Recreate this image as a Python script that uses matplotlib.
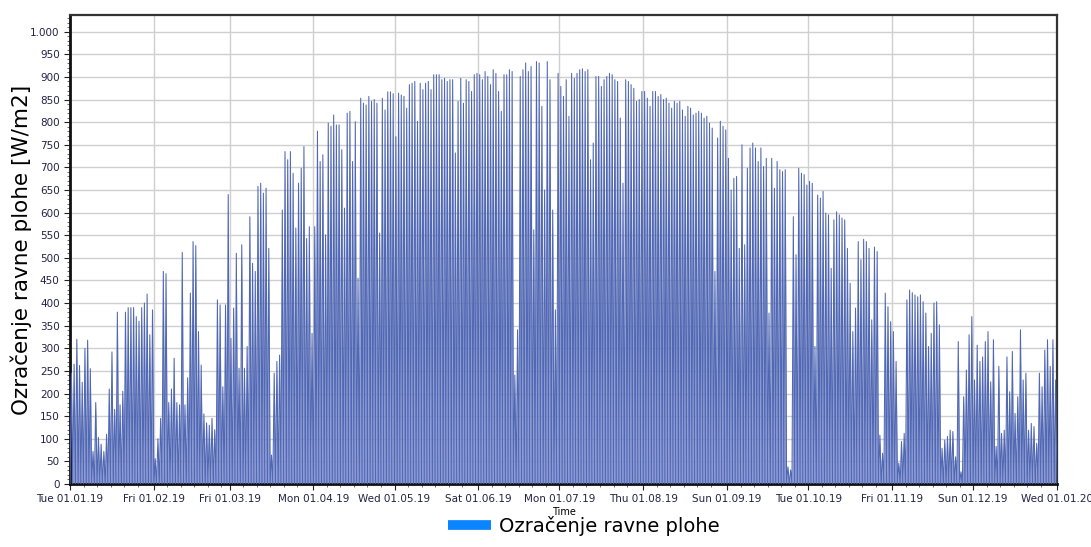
import numpy as np
import pandas as pd
import matplotlib
matplotlib.use("Agg")
import matplotlib.pyplot as plt
import matplotlib.dates as mdates
from matplotlib.ticker import FuncFormatter, MultipleLocator
from matplotlib.lines import Line2D

# Daily peak irradiance [W/m2] (2019)
jan = [245, 265, 320, 262, 225, 300, 318, 255, 72, 180, 103, 88, 72, 110, 210, 292,
       165, 380, 175, 205, 380, 390, 390, 390, 370, 360, 390, 400, 420, 330, 385]
feb = [56, 100, 145, 470, 465, 180, 210, 278, 180, 175, 512, 175, 235, 422, 536, 527,
       337, 263, 155, 135, 130, 145, 120, 407, 396, 215, 396, 640]
mar = [322, 389, 510, 256, 529, 256, 304, 591, 488, 470, 658, 665, 643, 654, 521, 64,
       245, 271, 285, 606, 735, 717, 735, 687, 566, 665, 698, 746, 543, 569, 333]
apr = [569, 780, 713, 728, 551, 798, 791, 816, 794, 794, 739, 610, 820, 824, 713, 801,
       455, 853, 842, 838, 857, 846, 850, 842, 555, 853, 827, 867, 867, 863]
may = [768, 864, 860, 857, 831, 883, 886, 890, 802, 886, 872, 886, 890, 872, 905, 905,
       905, 894, 897, 890, 894, 894, 732, 846, 897, 842, 894, 890, 868, 905, 908]
jun = [905, 894, 912, 901, 883, 916, 908, 868, 824, 905, 905, 916, 912, 241, 341, 901,
       916, 931, 912, 923, 562, 934, 931, 835, 650, 934, 894, 606, 385, 908]
jul = [879, 857, 894, 813, 908, 897, 908, 916, 918, 912, 916, 717, 754, 901, 901, 879,
       894, 901, 908, 905, 894, 890, 809, 665, 894, 890, 883, 875, 846, 850, 868]
aug = [868, 853, 835, 868, 868, 857, 861, 850, 853, 842, 831, 846, 842, 846, 827, 813,
       835, 831, 816, 820, 824, 820, 809, 813, 798, 787, 470, 765, 802, 791, 783]
sep = [720, 650, 676, 680, 521, 750, 529, 698, 743, 754, 743, 713, 743, 702, 720, 378,
       720, 654, 713, 695, 691, 695, 38, 31, 591, 507, 698, 687, 684, 661]
oct_ = [669, 665, 304, 639, 632, 647, 599, 595, 477, 584, 602, 595, 588, 584, 521, 444,
        337, 389, 536, 496, 541, 536, 521, 363, 524, 514, 108, 68, 422, 392, 359]
nov = [337, 271, 46, 94, 112, 407, 429, 423, 418, 414, 418, 403, 378, 304, 333, 400,
       403, 352, 79, 97, 105, 119, 116, 60, 315, 27, 193, 252, 330, 370]
dec = [230, 307, 271, 281, 315, 337, 226, 319, 83, 260, 112, 119, 281, 204, 293, 156,
       193, 341, 230, 245, 119, 134, 127, 90, 245, 215, 296, 319, 260, 319, 230]

series_label = "Ozračenje ravne plohe"
y_label = "Ozračenje ravne plohe [W/m2]"
x_label = "Time"

peaks = np.array(jan + feb + mar + apr + may + jun + jul + aug + sep + oct_ + nov + dec, dtype=float)
days = pd.date_range("2019-01-01", periods=len(peaks), freq="D")

# Series: zero at each midnight, daily peak at noon
times = []
vals = []
for d, p in zip(days, peaks):
    times.append(d)
    vals.append(0.0)
    times.append(d + pd.Timedelta(hours=12))
    vals.append(p)
times.append(days[-1] + pd.Timedelta(days=1))
vals.append(0.0)
times = pd.DatetimeIndex(times)
vals = np.array(vals)

fig = plt.figure(figsize=(10.91, 5.47), dpi=100)
ax = fig.add_axes([0.0642, 0.1152, 0.9046, 0.8574])

ax.fill_between(times, 0, vals, color="#8291d3", alpha=0.92, linewidth=0, zorder=2)
ax.plot(times, vals, color="#5067b2", linewidth=0.75, zorder=3)

ax.set_xlim(pd.Timestamp("2019-01-01"), pd.Timestamp("2020-01-01"))
ax.set_ylim(0, 1037)

ax.yaxis.set_major_locator(MultipleLocator(50))
ax.yaxis.set_minor_locator(MultipleLocator(10))
ax.yaxis.set_major_formatter(FuncFormatter(lambda v, pos: f"{v:,.0f}".replace(",", ".")))

ax.xaxis.set_major_locator(mdates.MonthLocator())
ax.xaxis.set_minor_locator(mdates.DayLocator(bymonthday=[6, 11, 16, 21, 26]))
ax.xaxis.set_major_formatter(mdates.DateFormatter("%a %d.%m.%y"))

ax.grid(True, which="major", color="#cfcfcf", linewidth=1.0, zorder=1)
ax.set_axisbelow(True)

ax.tick_params(axis="both", which="major", labelsize=7.5, colors="#222222", length=4, width=0.8)
ax.tick_params(axis="both", which="minor", length=2, width=0.6, colors="#555555")
for lab in ax.get_yticklabels() + ax.get_xticklabels():
    lab.set_color("#222244")

for side in ["left", "bottom"]:
    ax.spines[side].set_linewidth(2.0)
    ax.spines[side].set_color("#111111")
for side in ["top", "right"]:
    ax.spines[side].set_linewidth(1.6)
    ax.spines[side].set_color("#333333")

ax.set_ylabel(y_label, fontsize=15.5)
ax.yaxis.set_label_coords(-0.039, 0.5)
ax.set_xlabel(x_label, fontsize=7, labelpad=2)

handle = Line2D([0], [0], color="#0a84ff", linewidth=7, solid_capstyle="butt")
fig.legend([handle], [series_label], loc="lower center", bbox_to_anchor=(0.535, -0.012),
           frameon=False, fontsize=14, handlelength=2.2, handletextpad=0.4)

fig.savefig("out.png", dpi=100)
